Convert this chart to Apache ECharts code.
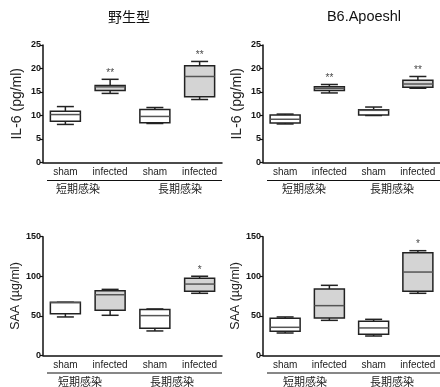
<!DOCTYPE html>
<html><head><meta charset="utf-8">
<script src="https://cdn.jsdelivr.net/npm/echarts@6/dist/echarts.min.js"></script>
<style>html,body{margin:0;padding:0;background:#fff}#c{width:440px;height:387px}</style>
</head><body><div id="c"></div>
<script>
const categories = ['sham', 'infected', 'sham', 'infected'];
const groupLabels = ['短期感染', '長期感染'];
const titles = ['野生型', 'B6.Apoeshl'];
const yNames = ['IL-6 (pg/ml)', 'SAA (µg/ml)'];
// [min, Q1, median, Q3, max]
const il6Wild = [[8.1, 8.8, 10.2, 10.9, 11.9], [14.7, 15.3, 16.1, 16.4, 17.7], [8.3, 8.45, 9.8, 11.3, 11.7], [13.4, 14.0, 18.3, 20.6, 21.5]];
const il6Apo = [[8.2, 8.4, 9.2, 10.1, 10.3], [14.8, 15.3, 15.8, 16.1, 16.6], [10.0, 10.1, 11.1, 11.2, 11.8], [15.8, 16.0, 16.7, 17.5, 18.3]];
const saaWild = [[48.5, 52.7, 66.5, 67.0, 67.0], [50.6, 56.9, 76.6, 81.7, 83.4], [30.8, 34.1, 50.2, 57.8, 58.6], [78.4, 80.9, 90.1, 97.3, 100]];
const saaApo = [[28.2, 30.3, 35.4, 46.8, 48.5], [44.2, 47.2, 62.8, 83.8, 88.5], [24.4, 26.5, 34.6, 43.0, 45.5], [78.4, 80.9, 105.3, 129.8, 132.3]];
const il6Stars = ['', '**', '', '**'];
const saaStars = ['', '', '', '*'];
const il6Axis = {min: 0, max: 25, interval: 5};
const saaAxis = {min: 0, max: 150, interval: 50};

const chart = echarts.init(document.getElementById('c'));
const panels = [
  {data: il6Wild, stars: il6Stars, ax: il6Axis, name: yNames[0], nfs: 14, gap: 19, left: 43, top: 45, h: 117.5},
  {data: il6Apo, stars: il6Stars, ax: il6Axis, name: yNames[0], nfs: 14, gap: 19, left: 263, top: 45, h: 117.5},
  {data: saaWild, stars: saaStars, ax: saaAxis, name: yNames[1], nfs: 12.5, gap: 20, left: 43, top: 236.7, h: 118.6},
  {data: saaApo, stars: saaStars, ax: saaAxis, name: yNames[1], nfs: 12.5, gap: 20, left: 263, top: 236.7, h: 118.6}
];
const W = 179;
function renderBox(params, api) {
  const i = api.value(0);
  const p = [1, 2, 3, 4, 5].map(k => api.coord([i, api.value(k)]));
  const x = p[0][0];
  const bw = 30, cw = 17;
  const fill = (i % 2 === 1) ? '#d4d4d4' : '#ffffff';
  const st = {stroke: '#222', lineWidth: 1.5};
  return {type: 'group', children: [
    {type: 'line', shape: {x1: x, y1: p[0][1], x2: x, y2: p[1][1]}, style: st},
    {type: 'line', shape: {x1: x, y1: p[3][1], x2: x, y2: p[4][1]}, style: st},
    {type: 'line', shape: {x1: x - cw / 2, y1: p[0][1], x2: x + cw / 2, y2: p[0][1]}, style: st},
    {type: 'line', shape: {x1: x - cw / 2, y1: p[4][1], x2: x + cw / 2, y2: p[4][1]}, style: st},
    {type: 'rect', shape: {x: x - bw / 2, y: p[3][1], width: bw, height: p[1][1] - p[3][1]}, style: {fill: fill, stroke: '#222', lineWidth: 1.5}},
    {type: 'line', shape: {x1: x - bw / 2, y1: p[2][1], x2: x + bw / 2, y2: p[2][1]}, style: {stroke: '#555', lineWidth: 1.5}}
  ]};
}
const grid = [], xAxis = [], yAxis = [], series = [];
panels.forEach((pn, k) => {
  grid.push({left: pn.left, top: pn.top, width: W, height: pn.h});
  xAxis.push({type: 'category', gridIndex: k, data: categories,
    axisLine: {lineStyle: {color: '#111', width: 1.5}},
    axisTick: {alignWithLabel: true, length: 3, lineStyle: {color: '#111', width: 1.2}},
    axisLabel: {color: '#222', fontSize: 10, fontFamily: 'Liberation Sans, Arial', margin: 5, interval: 0}});
  yAxis.push({type: 'value', gridIndex: k, min: pn.ax.min, max: pn.ax.max, interval: pn.ax.interval,
    name: pn.name, nameLocation: 'middle', nameGap: pn.gap,
    nameTextStyle: {color: '#222', fontSize: pn.nfs, fontFamily: 'Liberation Sans, Arial'},
    axisLine: {show: true, lineStyle: {color: '#111', width: 1.5}},
    axisTick: {show: true, length: 3, lineStyle: {color: '#111', width: 1.2}},
    splitLine: {show: false},
    axisLabel: {color: '#111', fontSize: 9, fontWeight: 'bold', fontFamily: 'Liberation Sans, Arial', margin: 2}});
  series.push({type: 'custom', xAxisIndex: k, yAxisIndex: k, renderItem: renderBox,
    encode: {x: 0, y: [1, 2, 3, 4, 5]},
    data: pn.data.map((d, i) => [i].concat(d))});
  series.push({type: 'scatter', xAxisIndex: k, yAxisIndex: k, symbolSize: 0, silent: true,
    data: pn.data.map((d, i) => ({value: [i, d[4]], label: {show: pn.stars[i] !== '', formatter: pn.stars[i]}})),
    label: {position: 'top', distance: 1, color: '#111', fontSize: 10, fontFamily: 'Liberation Sans, Arial'}});
});
const graphic = [];
graphic.push({type: 'text', x: 129, y: 17, style: {text: titles[0], fontSize: 14, fill: '#111', fontFamily: 'Noto Sans CJK JP', align: 'center', verticalAlign: 'middle'}});
graphic.push({type: 'text', x: 364, y: 17, style: {text: titles[1], fontSize: 14.5, fill: '#111', fontFamily: 'Liberation Sans, Arial', align: 'center', verticalAlign: 'middle'}});
const groupRows = [{line: 180.5, text: 189}, {line: 373, text: 382}];
const groupX = [[78, 180], [304, 392], [80, 172], [305, 392]];
panels.forEach((pn, k) => {
  const r = groupRows[k < 2 ? 0 : 1];
  graphic.push({type: 'line', shape: {x1: pn.left + 4, y1: r.line, x2: pn.left + W, y2: r.line}, style: {stroke: '#111', lineWidth: 1.2}});
  groupLabels.forEach((g, j) => {
    graphic.push({type: 'text', x: groupX[k][j], y: r.text, style: {text: g, fontSize: 11, fill: '#222', fontFamily: 'Noto Sans CJK JP', align: 'center', verticalAlign: 'middle'}});
  });
});
chart.setOption({animation: false, grid, xAxis, yAxis, series, graphic});
</script></body></html>
